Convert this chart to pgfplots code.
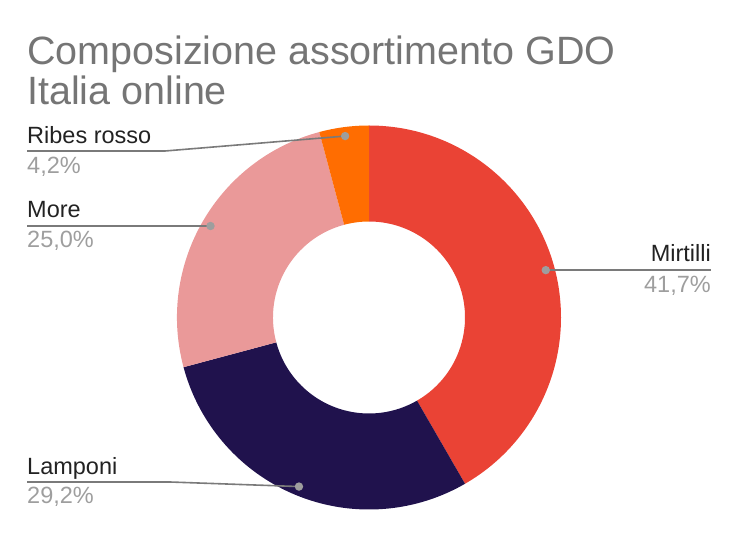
\documentclass[border=0pt]{standalone}
\usepackage{pgfplots}
\pgfplotsset{compat=1.18}
\usepackage{pgfplotstable}
\usepackage{fontspec}
\setmainfont{Liberation Sans}
\definecolor{cMir}{HTML}{EA4335}
\definecolor{cLam}{HTML}{20124D}
\definecolor{cMor}{HTML}{EA9999}
\definecolor{cRib}{HTML}{FF6D01}
\definecolor{titlegray}{HTML}{757575}
\definecolor{pctgray}{HTML}{9E9E9E}
\definecolor{labblack}{HTML}{222222}
\definecolor{linegray}{HTML}{7A7A7A}

\pgfplotstableread{
label value
Mirtilli 10
Lamponi 7
More 6
Ribes 1
}\data

\pgfplotstablegetelem{0}{value}\of\data \let\vA\pgfplotsretval
\pgfplotstablegetelem{1}{value}\of\data \let\vB\pgfplotsretval
\pgfplotstablegetelem{2}{value}\of\data \let\vC\pgfplotsretval
\pgfplotstablegetelem{3}{value}\of\data \let\vD\pgfplotsretval
\pgfmathsetmacro\tot{\vA+\vB+\vC+\vD}
\pgfmathsetmacro\aA{90}
\pgfmathsetmacro\aB{\aA-360*\vA/\tot}
\pgfmathsetmacro\aC{\aB-360*\vB/\tot}
\pgfmathsetmacro\aD{\aC-360*\vC/\tot}
\pgfmathsetmacro\aE{\aD-360*\vD/\tot}
\pgfmathsetmacro\mA{(\aA+\aB)/2}
\pgfmathsetmacro\mB{(\aB+\aC)/2}
\pgfmathsetmacro\mC{(\aC+\aD)/2}
\pgfmathsetmacro\mD{(\aD+\aE)/2}

\newcommand\donutwedge[3]{%
  \fill[#3] ([shift={(#1:192pt)}]axis cs:369,218.5) arc[start angle=#1,end angle=#2,radius=192pt]
    -- ([shift={(#2:96pt)}]axis cs:369,218.5) arc[start angle=#2,end angle=#1,radius=96pt] -- cycle;}

\begin{document}
\begin{tikzpicture}
\begin{axis}[x=1pt,y=1pt,xmin=0,xmax=737,ymin=0,ymax=536,
  hide axis,clip=false,enlargelimits=false]
\path (axis cs:0,0) rectangle (axis cs:737,536);
\donutwedge{\aA}{\aB}{cMir}
\donutwedge{\aB}{\aC}{cLam}
\donutwedge{\aC}{\aD}{cMor}
\donutwedge{\aD}{\aE}{cRib}
% dots
\coordinate (dA) at ([shift={(\mA:183pt)}]axis cs:369,218.5);
\coordinate (dB) at ([shift={(\mB:183pt)}]axis cs:369,218.5);
\coordinate (dC) at ([shift={(\mC:183pt)}]axis cs:369,218.5);
\coordinate (dD) at ([shift={(\mD:183pt)}]axis cs:369,218.5);
\coordinate (eR) at (axis cs:711,0);
\coordinate (eL) at (axis cs:27,0);
\draw[linegray,line width=1.6pt] (dA) -- (dA -| eR);
\draw[linegray,line width=1.6pt] (dB) -- (axis cs:170,54) -- (axis cs:27,54);
\draw[linegray,line width=1.6pt] (dC) -- (dC -| eL);
\draw[linegray,line width=1.6pt] (dD) -- (axis cs:165,385) -- (axis cs:27,385);
\fill[pctgray] (dA) circle[radius=4.2pt];
\fill[pctgray] (dB) circle[radius=4.2pt];
\fill[pctgray] (dC) circle[radius=4.2pt];
\fill[pctgray] (dD) circle[radius=4.2pt];
% title
\node[anchor=base west,inner sep=0pt,text=titlegray,font=\fontsize{39.5}{40}\selectfont] at (axis cs:27,471) {Composizione assortimento GDO};
\node[anchor=base west,inner sep=0pt,text=titlegray,font=\fontsize{39.5}{40}\selectfont] at (axis cs:27,431) {Italia online};
% labels
\node[anchor=base west,inner sep=0pt,text=labblack,font=\fontsize{23.5}{24}\selectfont] at (axis cs:27,392) {Ribes rosso};
\node[anchor=base west,inner sep=0pt,text=pctgray,font=\fontsize{23.5}{24}\selectfont] at (axis cs:27,362) {4,2\%};
\node[anchor=base west,inner sep=0pt,text=labblack,font=\fontsize{23.5}{24}\selectfont] at (axis cs:27,318) {More};
\node[anchor=base west,inner sep=0pt,text=pctgray,font=\fontsize{23.5}{24}\selectfont] at (axis cs:27,288) {25,0\%};
\node[anchor=base east,inner sep=0pt,text=labblack,font=\fontsize{23.5}{24}\selectfont] at (axis cs:711,274.3) {Mirtilli};
\node[anchor=base east,inner sep=0pt,text=pctgray,font=\fontsize{23.5}{24}\selectfont] at (axis cs:711,243.3) {41,7\%};
\node[anchor=base west,inner sep=0pt,text=labblack,font=\fontsize{23.5}{24}\selectfont] at (axis cs:27,61.7) {Lamponi};
\node[anchor=base west,inner sep=0pt,text=pctgray,font=\fontsize{23.5}{24}\selectfont] at (axis cs:27,32.7) {29,2\%};
\end{axis}
\end{tikzpicture}
\end{document}
